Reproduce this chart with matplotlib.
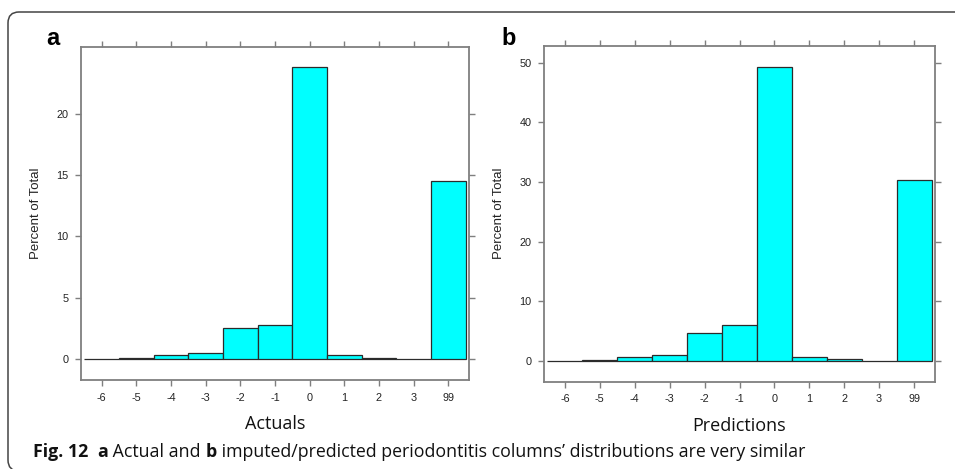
import matplotlib
matplotlib.use('Agg')
import matplotlib.pyplot as plt
import matplotlib.transforms as mtransforms
from matplotlib.patches import FancyBboxPatch
import numpy as np

# bins shown on the x axis
categories = ['-6', '-5', '-4', '-3', '-2', '-1', '0', '1', '2', '3', '99']

# percent of total per bin
actuals = [0, 0.05, 0.3, 0.45, 2.5, 2.75, 23.9, 0.3, 0.05, 0, 14.55]
predictions = [0, 0.15, 0.65, 0.95, 4.7, 5.95, 49.3, 0.7, 0.25, 0, 30.3]

a_yticks = [0, 5, 10, 15, 20]
b_yticks = [0, 10, 20, 30, 40, 50]

frame_col = '#7f7f7f'
bar_col = '#00ffff'
tick_font = 'Liberation Sans'
label_font = 'Open Sans'

fig = plt.figure(figsize=(9.55, 4.69), dpi=100)
fig.patch.set_facecolor('white')

# rounded outer border of the figure (pixel coordinates)
border = FancyBboxPatch((8, -2), 1000, 459, boxstyle='round,pad=0,rounding_size=11',
                        transform=mtransforms.IdentityTransform(),
                        fc='none', ec='#444444', lw=1.1)
fig.patches.append(border)


def panel(rect, values, yticks, ylim, xlabel, letter, letter_x):
    ax = fig.add_axes(rect)
    x = np.arange(len(categories))
    ax.bar(x, values, width=1.0, color=bar_col, edgecolor='#2b2b2b', linewidth=0.9, zorder=3)
    ax.set_xlim(-0.6, 10.6)
    ax.set_ylim(*ylim)
    ax.set_xticks(x)
    ax.set_xticklabels(categories)
    ax.set_yticks(yticks)
    for s in ax.spines.values():
        s.set_color(frame_col)
        s.set_linewidth(1.3)
    ax.tick_params(direction='out', length=4, width=1, color=frame_col,
                   top=True, right=True, labeltop=False, labelright=False,
                   labelsize=7.8, labelcolor='#222222', pad=5)
    for lab in ax.get_xticklabels() + ax.get_yticklabels():
        lab.set_family(tick_font)
    ax.set_ylabel('Percent of Total', family=tick_font, fontsize=9.5, color='#222222', labelpad=10)
    ax.set_xlabel(xlabel, family=label_font, fontsize=13, color='#111111', labelpad=9)
    fig.text(letter_x, 1 - 45 / 469, letter, family=tick_font, fontweight='bold',
             fontsize=17, color='black', va='baseline')
    return ax


ax_a = panel([81 / 955, 1 - 380 / 469, 388 / 955, 333 / 469], actuals, a_yticks,
             (-1.75, 25.5), 'Actuals', 'a', 46 / 955)
ax_b = panel([544 / 955, 1 - 381.7 / 469, 391 / 955, 336 / 469], predictions, b_yticks,
             (-3.5, 52.85), 'Predictions', 'b', 501 / 955)

# caption with mixed bold/regular pieces, placed one after another
caption = [('Fig. 12', 'bold'), ('  ', 'normal'), ('a', 'bold'), (' Actual and ', 'normal'),
           ('b', 'bold'), (' imputed/predicted periodontitis columns\u2019 distributions are very similar', 'normal')]
fig.canvas.draw()
renderer = fig.canvas.get_renderer()
xpos = 33
for txt, weight in caption:
    t = fig.text(xpos / 955, 1 - 457 / 469, txt, family=label_font, fontweight=weight,
                 fontsize=12.8, color='#111111', va='baseline')
    bb = t.get_window_extent(renderer=renderer)
    xpos = bb.x1

fig.savefig('out.png', dpi=100, facecolor='white')
